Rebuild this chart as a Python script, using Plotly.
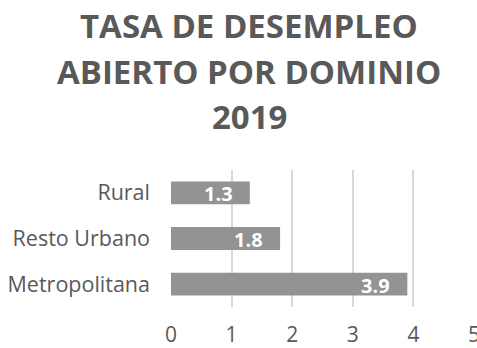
import plotly.graph_objects as go

# Tasa de desempleo abierto por dominio, 2019 (%)
dominios = ["Metropolitana", "Resto Urbano", "Rural"]
tasas = [3.9, 1.8, 1.3]
ticks_x = [0, 1, 2, 3, 4, 5]
titulo = ["TASA DE DESEMPLEO", "ABIERTO POR DOMINIO", "2019"]

W, H = 477, 348
M_L, M_R, M_T, M_B = 171, 3, 170, 41
plot_w = W - M_L - M_R
plot_h = H - M_T - M_B

bar_color = "#939393"
grid_color = "#d9d9d9"
text_color = "#595959"
font = "Open Sans"


def paper_x(px):
    """Pixel column to paper x coordinate."""
    return (px - M_L) / plot_w


def paper_y(py):
    """Pixel row (from top) to paper y coordinate."""
    return (H - M_B - py) / plot_h


fig = go.Figure(
    go.Bar(
        x=tasas,
        y=dominios,
        orientation="h",
        marker=dict(color=bar_color, line=dict(width=0)),
        width=0.5,
        hoverinfo="skip",
    )
)

# value labels inside the bar ends
for d, v in zip(dominios, tasas):
    fig.add_annotation(
        x=v, y=d, xref="x", yref="y",
        text=f"{v:.1f}", showarrow=False,
        xanchor="right", yanchor="middle", xshift=-15, yshift=-1,
        font=dict(family=font, size=20, color="white", weight="bold"),
    )

# title lines
for line, py in zip(titulo, [25, 71, 117]):
    fig.add_annotation(
        x=paper_x(249), y=paper_y(py), xref="paper", yref="paper",
        xanchor="center", yanchor="middle",
        text=line, showarrow=False,
        font=dict(family=font, size=33, color=text_color, weight="bold"),
    )

fig.update_layout(
    width=W, height=H,
    margin=dict(l=M_L, r=M_R, t=M_T, b=M_B, autoexpand=False),
    paper_bgcolor="white", plot_bgcolor="white",
    showlegend=False,
    xaxis=dict(
        range=[0, 5], tickvals=ticks_x, showgrid=True, gridcolor=grid_color,
        gridwidth=1.5, zeroline=False, showline=False, ticks="",
        tickfont=dict(family=font, size=21, color=text_color),
        ticklabelstandoff=13, ticklabeloverflow="allow",
        automargin=False, fixedrange=True,
    ),
    yaxis=dict(
        range=[-0.5, 2.5], showgrid=False, zeroline=False, showline=False,
        ticks="", tickfont=dict(family=font, size=21.5, color=text_color),
        ticklabelstandoff=20, automargin=False, fixedrange=True,
    ),
)

fig.write_html("out.html", config={"displayModeBar": False})
